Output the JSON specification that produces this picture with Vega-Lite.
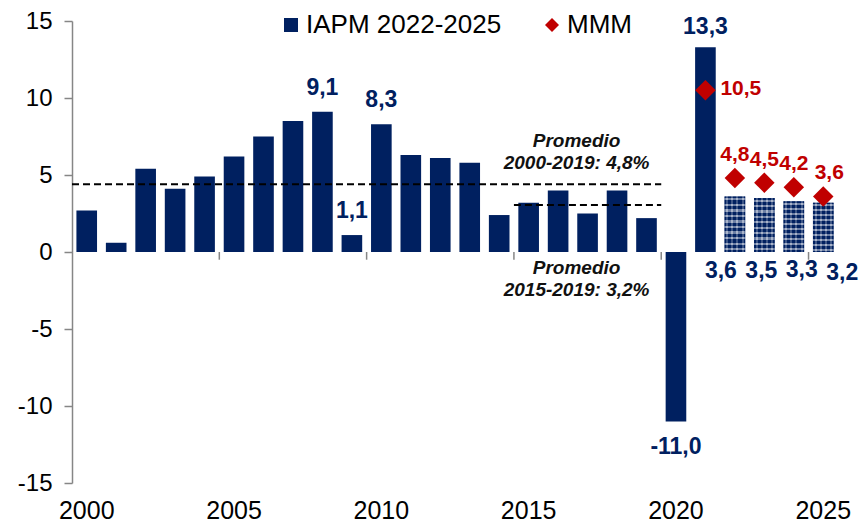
{
  "$schema": "https://vega.github.io/schema/vega-lite/v6.json",
  "width": 766,
  "height": 462,
  "autosize": {"type": "none"},
  "padding": {"left": 72, "top": 21, "right": 25, "bottom": 42},
  "config": {
    "font": "Liberation Sans",
    "view": {"stroke": null},
    "locale": {"number": {"decimal": ",", "thousands": ".", "grouping": [3], "currency": ["", ""], "minus": "-"}}
  },
  "datasets": {
    "iapm": [
      {"year": "2000", "value": 2.7, "tipo": "hist"},
      {"year": "2001", "value": 0.6, "tipo": "hist"},
      {"year": "2002", "value": 5.4, "tipo": "hist"},
      {"year": "2003", "value": 4.1, "tipo": "hist"},
      {"year": "2004", "value": 4.9, "tipo": "hist"},
      {"year": "2005", "value": 6.2, "tipo": "hist"},
      {"year": "2006", "value": 7.5, "tipo": "hist"},
      {"year": "2007", "value": 8.5, "tipo": "hist"},
      {"year": "2008", "value": 9.1, "tipo": "hist"},
      {"year": "2009", "value": 1.1, "tipo": "hist"},
      {"year": "2010", "value": 8.3, "tipo": "hist"},
      {"year": "2011", "value": 6.3, "tipo": "hist"},
      {"year": "2012", "value": 6.1, "tipo": "hist"},
      {"year": "2013", "value": 5.8, "tipo": "hist"},
      {"year": "2014", "value": 2.4, "tipo": "hist"},
      {"year": "2015", "value": 3.2, "tipo": "hist"},
      {"year": "2016", "value": 4.0, "tipo": "hist"},
      {"year": "2017", "value": 2.5, "tipo": "hist"},
      {"year": "2018", "value": 4.0, "tipo": "hist"},
      {"year": "2019", "value": 2.2, "tipo": "hist"},
      {"year": "2020", "value": -11.0, "tipo": "hist"},
      {"year": "2021", "value": 13.3, "tipo": "hist"},
      {"year": "2022", "value": 3.6, "tipo": "proj"},
      {"year": "2023", "value": 3.5, "tipo": "proj"},
      {"year": "2024", "value": 3.3, "tipo": "proj"},
      {"year": "2025", "value": 3.2, "tipo": "proj"}
    ],
    "mmm": [
      {"year": "2021", "value": 10.5, "serie": "MMM"},
      {"year": "2022", "value": 4.8, "serie": "MMM"},
      {"year": "2023", "value": 4.5, "serie": "MMM"},
      {"year": "2024", "value": 4.2, "serie": "MMM"},
      {"year": "2025", "value": 3.6, "serie": "MMM"}
    ],
    "promedios": [
      {"grupo": "2000-2019", "year": "2000", "value": 4.4},
      {"grupo": "2000-2019", "year": "2020", "value": 4.4},
      {"grupo": "2015-2019", "year": "2015", "value": 3.05},
      {"grupo": "2015-2019", "year": "2020", "value": 3.05}
    ]
  },
  "layer": [
    {
      "data": {"name": "iapm"},
      "mark": {"type": "bar", "width": {"band": 0.7}, "color": "#002060"},
      "encoding": {
        "x": {
          "field": "year", "type": "ordinal", "title": null,
          "scale": {"domain": ["2000","2001","2002","2003","2004","2005","2006","2007","2008","2009","2010","2011","2012","2013","2014","2015","2016","2017","2018","2019","2020","2021","2022","2023","2024","2025"], "paddingInner": 0, "paddingOuter": 0},
          "axis": {"values": ["2000","2005","2010","2015","2020","2025"], "domain": false, "ticks": false, "labelAngle": 0, "labelFontSize": 25, "labelPadding": 15, "labelColor": "#000000", "title": null}
        },
        "y": {
          "field": "value", "type": "quantitative", "title": null,
          "scale": {"domain": [-15, 15], "nice": false},
          "axis": {"values": [-15,-10,-5,0,5,10,15], "grid": false, "domainColor": "#868686", "domainWidth": 1.5, "tickColor": "#868686", "tickWidth": 1.5, "tickSize": 8, "labelFontSize": 24, "labelColor": "#000000", "labelPadding": 12, "title": null}
        }
      }
    },
    {
      "data": {"name": "iapm"},
      "transform": [{"filter": "datum.tipo === 'proj'"}],
      "mark": {"type": "bar", "width": {"band": 0.7}, "opacity": 0.42, "fill": {"gradient": "linear", "x1": 0, "y1": 0, "x2": 1, "y2": 0, "stops": [
        {"offset": 0, "color": "#002060"}, {"offset": 0.075, "color": "#002060"},
        {"offset": 0.075, "color": "#ffffff"}, {"offset": 0.175, "color": "#ffffff"},
        {"offset": 0.175, "color": "#002060"}, {"offset": 0.325, "color": "#002060"},
        {"offset": 0.325, "color": "#ffffff"}, {"offset": 0.425, "color": "#ffffff"},
        {"offset": 0.425, "color": "#002060"}, {"offset": 0.575, "color": "#002060"},
        {"offset": 0.575, "color": "#ffffff"}, {"offset": 0.675, "color": "#ffffff"},
        {"offset": 0.675, "color": "#002060"}, {"offset": 0.825, "color": "#002060"},
        {"offset": 0.825, "color": "#ffffff"}, {"offset": 0.925, "color": "#ffffff"},
        {"offset": 0.925, "color": "#002060"}, {"offset": 1, "color": "#002060"}
      ]}},
      "encoding": {
        "x": {"field": "year", "type": "ordinal", "title": null},
        "y": {"field": "value", "type": "quantitative", "title": null}
      }
    },
    {
      "data": {"name": "iapm"},
      "transform": [{"filter": "datum.tipo === 'proj'"}],
      "mark": {"type": "bar", "width": {"band": 0.7}, "opacity": 0.42, "fill": {"gradient": "linear", "x1": 0, "y1": 0, "x2": 0, "y2": 1, "stops": [
        {"offset": 0, "color": "#002060"}, {"offset": 0.03, "color": "#002060"},
        {"offset": 0.03, "color": "#ffffff"}, {"offset": 0.07, "color": "#ffffff"},
        {"offset": 0.07, "color": "#002060"}, {"offset": 0.13, "color": "#002060"},
        {"offset": 0.13, "color": "#ffffff"}, {"offset": 0.17, "color": "#ffffff"},
        {"offset": 0.17, "color": "#002060"}, {"offset": 0.23, "color": "#002060"},
        {"offset": 0.23, "color": "#ffffff"}, {"offset": 0.27, "color": "#ffffff"},
        {"offset": 0.27, "color": "#002060"}, {"offset": 0.33, "color": "#002060"},
        {"offset": 0.33, "color": "#ffffff"}, {"offset": 0.37, "color": "#ffffff"},
        {"offset": 0.37, "color": "#002060"}, {"offset": 0.43, "color": "#002060"},
        {"offset": 0.43, "color": "#ffffff"}, {"offset": 0.47, "color": "#ffffff"},
        {"offset": 0.47, "color": "#002060"}, {"offset": 0.53, "color": "#002060"},
        {"offset": 0.53, "color": "#ffffff"}, {"offset": 0.57, "color": "#ffffff"},
        {"offset": 0.57, "color": "#002060"}, {"offset": 0.63, "color": "#002060"},
        {"offset": 0.63, "color": "#ffffff"}, {"offset": 0.67, "color": "#ffffff"},
        {"offset": 0.67, "color": "#002060"}, {"offset": 0.73, "color": "#002060"},
        {"offset": 0.73, "color": "#ffffff"}, {"offset": 0.77, "color": "#ffffff"},
        {"offset": 0.77, "color": "#002060"}, {"offset": 0.83, "color": "#002060"},
        {"offset": 0.83, "color": "#ffffff"}, {"offset": 0.87, "color": "#ffffff"},
        {"offset": 0.87, "color": "#002060"}, {"offset": 0.93, "color": "#002060"},
        {"offset": 0.93, "color": "#ffffff"}, {"offset": 0.97, "color": "#ffffff"},
        {"offset": 0.97, "color": "#002060"}, {"offset": 1, "color": "#002060"}
      ]}},
      "encoding": {
        "x": {"field": "year", "type": "ordinal", "title": null},
        "y": {"field": "value", "type": "quantitative", "title": null}
      }
    },
    {
      "data": {"name": "promedios"},
      "mark": {"type": "line", "color": "#000000", "strokeWidth": 2, "strokeDash": [7, 4]},
      "encoding": {
        "x": {"field": "year", "type": "ordinal", "title": null, "bandPosition": 0},
        "y": {"field": "value", "type": "quantitative", "title": null},
        "detail": {"field": "grupo"}
      }
    },
    {
      "mark": {"type": "rule", "color": "#868686", "strokeWidth": 1.5},
      "encoding": {"y": {"datum": 0}}
    },
    {
      "data": {"name": "iapm"},
      "transform": [{"filter": {"field": "year", "oneOf": ["2005","2010","2015","2020","2025"]}}],
      "mark": {"type": "rule", "color": "#868686", "strokeWidth": 1.5},
      "encoding": {
        "x": {"field": "year", "type": "ordinal", "title": null, "bandPosition": 0},
        "y": {"datum": 0},
        "y2": {"datum": -0.5}
      }
    },
    {
      "data": {"name": "mmm"},
      "mark": {"type": "point", "filled": true, "size": 420, "opacity": 1},
      "encoding": {
        "x": {"field": "year", "type": "ordinal", "title": null},
        "y": {"field": "value", "type": "quantitative", "title": null},
        "color": {
          "field": "serie", "type": "nominal",
          "scale": {"domain": ["IAPM 2022-2025", "MMM"], "range": ["#002060", "#C00000"]},
          "legend": {"orient": "none", "legendX": 206, "legendY": -9, "direction": "horizontal", "title": null, "labelFontSize": 26, "labelLimit": 400, "labelColor": "#000000", "symbolSize": 196, "symbolStrokeWidth": 0, "labelOffset": 2, "columnPadding": 37, "padding": 0, "symbolOpacity": 1}
        },
        "shape": {
          "field": "serie", "type": "nominal",
          "scale": {"domain": ["IAPM 2022-2025", "MMM"], "range": ["square", "diamond"]},
          "legend": {"orient": "none", "legendX": 206, "legendY": -9, "direction": "horizontal", "title": null, "labelFontSize": 26, "labelLimit": 400, "labelColor": "#000000", "symbolSize": 196, "symbolStrokeWidth": 0, "labelOffset": 2, "columnPadding": 37, "padding": 0, "symbolOpacity": 1}
        }
      }
    },
    {
      "data": {"name": "iapm"},
      "transform": [{"filter": {"field": "year", "oneOf": ["2008","2009","2010"]}}],
      "mark": {"type": "text", "fontSize": 23, "fontWeight": "bold", "color": "#002060", "baseline": "alphabetic", "dy": -17},
      "encoding": {
        "x": {"field": "year", "type": "ordinal", "title": null},
        "y": {"field": "value", "type": "quantitative", "title": null},
        "text": {"field": "value", "type": "quantitative", "format": ".1f"}
      }
    },
    {
      "data": {"name": "iapm"},
      "transform": [{"filter": "datum.year === '2021'"}],
      "mark": {"type": "text", "fontSize": 23, "fontWeight": "bold", "color": "#002060", "baseline": "alphabetic", "dy": -13},
      "encoding": {
        "x": {"field": "year", "type": "ordinal", "title": null},
        "y": {"field": "value", "type": "quantitative", "title": null},
        "text": {"field": "value", "type": "quantitative", "format": ".1f"}
      }
    },
    {
      "data": {"name": "iapm"},
      "transform": [{"filter": "datum.year === '2020'"}],
      "mark": {"type": "text", "fontSize": 23, "fontWeight": "bold", "color": "#002060", "baseline": "alphabetic", "dy": 33},
      "encoding": {
        "x": {"field": "year", "type": "ordinal", "title": null},
        "y": {"field": "value", "type": "quantitative", "title": null},
        "text": {"field": "value", "type": "quantitative", "format": ".1f"}
      }
    },
    {
      "data": {"name": "iapm"},
      "transform": [{"filter": "datum.year === '2022'"}],
      "mark": {"type": "text", "fontSize": 23, "fontWeight": "bold", "color": "#002060", "baseline": "alphabetic", "dy": 26, "dx": -14},
      "encoding": {
        "x": {"field": "year", "type": "ordinal", "title": null},
        "y": {"datum": 0},
        "text": {"field": "value", "type": "quantitative", "format": ".1f"}
      }
    },
    {
      "data": {"name": "iapm"},
      "transform": [{"filter": "datum.year === '2023'"}],
      "mark": {"type": "text", "fontSize": 23, "fontWeight": "bold", "color": "#002060", "baseline": "alphabetic", "dy": 26, "dx": -3},
      "encoding": {
        "x": {"field": "year", "type": "ordinal", "title": null},
        "y": {"datum": 0},
        "text": {"field": "value", "type": "quantitative", "format": ".1f"}
      }
    },
    {
      "data": {"name": "iapm"},
      "transform": [{"filter": "datum.year === '2024'"}],
      "mark": {"type": "text", "fontSize": 23, "fontWeight": "bold", "color": "#002060", "baseline": "alphabetic", "dy": 25, "dx": 8},
      "encoding": {
        "x": {"field": "year", "type": "ordinal", "title": null},
        "y": {"datum": 0},
        "text": {"field": "value", "type": "quantitative", "format": ".1f"}
      }
    },
    {
      "data": {"name": "iapm"},
      "transform": [{"filter": "datum.year === '2025'"}],
      "mark": {"type": "text", "fontSize": 23, "fontWeight": "bold", "color": "#002060", "baseline": "alphabetic", "dy": 28, "dx": 19},
      "encoding": {
        "x": {"field": "year", "type": "ordinal", "title": null},
        "y": {"datum": 0},
        "text": {"field": "value", "type": "quantitative", "format": ".1f"}
      }
    },
    {
      "data": {"name": "mmm"},
      "transform": [{"filter": "datum.year === '2021'"}],
      "mark": {"type": "text", "fontSize": 21, "fontWeight": "bold", "color": "#C00000", "baseline": "alphabetic", "align": "left", "dx": 15, "dy": 5},
      "encoding": {
        "x": {"field": "year", "type": "ordinal", "title": null},
        "y": {"field": "value", "type": "quantitative", "title": null},
        "text": {"field": "value", "type": "quantitative", "format": ".1f"}
      }
    },
    {
      "data": {"name": "mmm"},
      "transform": [{"filter": {"field": "year", "oneOf": ["2022","2023","2024"]}}],
      "mark": {"type": "text", "fontSize": 21, "fontWeight": "bold", "color": "#C00000", "baseline": "alphabetic", "dy": -17},
      "encoding": {
        "x": {"field": "year", "type": "ordinal", "title": null},
        "y": {"field": "value", "type": "quantitative", "title": null},
        "text": {"field": "value", "type": "quantitative", "format": ".1f"}
      }
    },
    {
      "data": {"name": "mmm"},
      "transform": [{"filter": "datum.year === '2025'"}],
      "mark": {"type": "text", "fontSize": 21, "fontWeight": "bold", "color": "#C00000", "baseline": "alphabetic", "dy": -18, "dx": 6},
      "encoding": {
        "x": {"field": "year", "type": "ordinal", "title": null},
        "y": {"field": "value", "type": "quantitative", "title": null},
        "text": {"field": "value", "type": "quantitative", "format": ".1f"}
      }
    },
    {
      "data": {"name": "iapm"},
      "transform": [{"filter": "datum.year === '2017'"}],
      "mark": {"type": "text", "text": ["Promedio", "2000-2019: 4,8%"], "fontSize": 19, "fontWeight": "bold", "fontStyle": "italic", "color": "#111111", "baseline": "middle", "lineHeight": 22, "dx": -11},
      "encoding": {
        "x": {"field": "year", "type": "ordinal", "title": null},
        "y": {"datum": 7.2}
      }
    },
    {
      "data": {"name": "iapm"},
      "transform": [{"filter": "datum.year === '2017'"}],
      "mark": {"type": "text", "text": ["Promedio", "2015-2019: 3,2%"], "fontSize": 19, "fontWeight": "bold", "fontStyle": "italic", "color": "#111111", "baseline": "middle", "lineHeight": 22, "dx": -11},
      "encoding": {
        "x": {"field": "year", "type": "ordinal", "title": null},
        "y": {"datum": -1.07}
      }
    }
  ]
}
